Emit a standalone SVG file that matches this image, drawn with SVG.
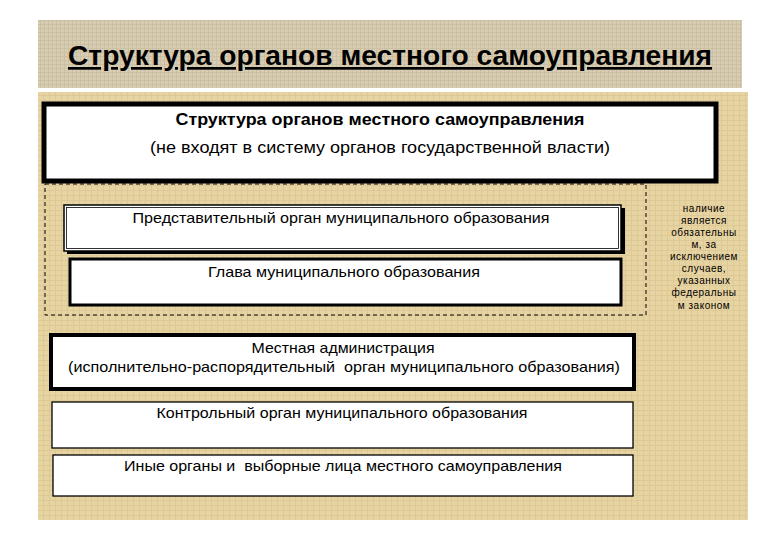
<svg xmlns="http://www.w3.org/2000/svg" width="780" height="540" viewBox="0 0 780 540">
<style>
.t{font-family:"Liberation Sans",Arial,sans-serif;fill:#000;text-anchor:middle}
.title{font-size:27px;font-weight:bold;text-decoration:underline}
.hb{font-size:16.5px;font-weight:bold}
.hr{font-size:16px}
.n{font-size:14.5px}
.s{font-size:10px;letter-spacing:0.5px}
.box{fill:#fff;stroke:#000}
</style>
<defs>
<pattern id="linen" width="4" height="4" patternUnits="userSpaceOnUse">
<rect width="4" height="4" fill="#d8cdb4"/>
<path d="M0 0.5H4M0.5 0V4" stroke="#c4b898" stroke-width="1" opacity="0.6"/>
</pattern>
<pattern id="papyrus" width="6" height="5" patternUnits="userSpaceOnUse">
<rect width="6" height="5" fill="#e7d4a3"/>
<path d="M0 0.5H6M1.5 0V5" stroke="#d6c08a" stroke-width="1" opacity="0.55"/>
</pattern>
</defs>
<rect width="780" height="540" fill="#fff"/>
<g id="header">
<rect x="38" y="20" width="704" height="68" fill="url(#linen)"/>
<text class="t title" x="390" y="65" textLength="644" lengthAdjust="spacingAndGlyphs">Структура органов местного самоуправления</text>
</g>
<g id="panel">
<rect x="38" y="92" width="710" height="428" fill="url(#papyrus)"/>
</g>
<g id="connectors"></g>
<g id="top-box">
<rect class="box" x="44" y="104" width="672" height="77" stroke-width="5"/>
<text class="t hb" x="380" y="125" textLength="409" lengthAdjust="spacingAndGlyphs">Структура органов местного самоуправления</text>
<text class="t hr" x="380" y="153" textLength="460" lengthAdjust="spacingAndGlyphs">(не входят в систему органов государственной власти)</text>
</g>
<g id="dashed-group">
<rect x="45" y="184" width="601" height="131" fill="none" stroke="#000" stroke-width="1" stroke-dasharray="4,3"/>
</g>
<g id="box-representative">
<rect x="67" y="208" width="558" height="46" fill="#000"/>
<rect class="box" x="64" y="205" width="557" height="46" stroke-width="1.5"/>
<rect x="66.5" y="207.5" width="552" height="41" fill="none" stroke="#000" stroke-width="0.8"/>
<text class="t n" x="341" y="223" textLength="417" lengthAdjust="spacingAndGlyphs">Представительный орган муниципального образования</text>
</g>
<g id="box-head">
<rect class="box" x="70" y="259" width="551" height="46" stroke-width="3"/>
<text class="t n" x="344" y="277" textLength="272" lengthAdjust="spacingAndGlyphs">Глава муниципального образования</text>
</g>
<g id="box-admin">
<rect class="box" x="51" y="335" width="583" height="54" stroke-width="4"/>
<text class="t n" x="343" y="353" textLength="183" lengthAdjust="spacingAndGlyphs">Местная администрация</text>
<text class="t n" x="344" y="372" xml:space="preserve" textLength="552" lengthAdjust="spacingAndGlyphs">(исполнительно-распорядительный  орган муниципального образования)</text>
</g>
<g id="box-control">
<rect class="box" x="52" y="402" width="581" height="46" stroke-width="1.3"/>
<text class="t n" x="342" y="418" textLength="371" lengthAdjust="spacingAndGlyphs">Контрольный орган муниципального образования</text>
</g>
<g id="box-other">
<rect class="box" x="53" y="455" width="580" height="41" stroke-width="1.3"/>
<text class="t n" x="343" y="471" xml:space="preserve" textLength="438" lengthAdjust="spacingAndGlyphs">Иные органы и  выборные лица местного самоуправления</text>
</g>
<g id="note">
<text class="t s" x="704" y="212">наличие</text>
<text class="t s" x="704" y="224">является</text>
<text class="t s" x="704" y="236">обязательны</text>
<text class="t s" x="704" y="248">м, за</text>
<text class="t s" x="704" y="260">исключением</text>
<text class="t s" x="704" y="272">случаев,</text>
<text class="t s" x="704" y="284">указанных</text>
<text class="t s" x="704" y="296">федеральны</text>
<text class="t s" x="704" y="309">м законом</text>
</g>
</svg>
